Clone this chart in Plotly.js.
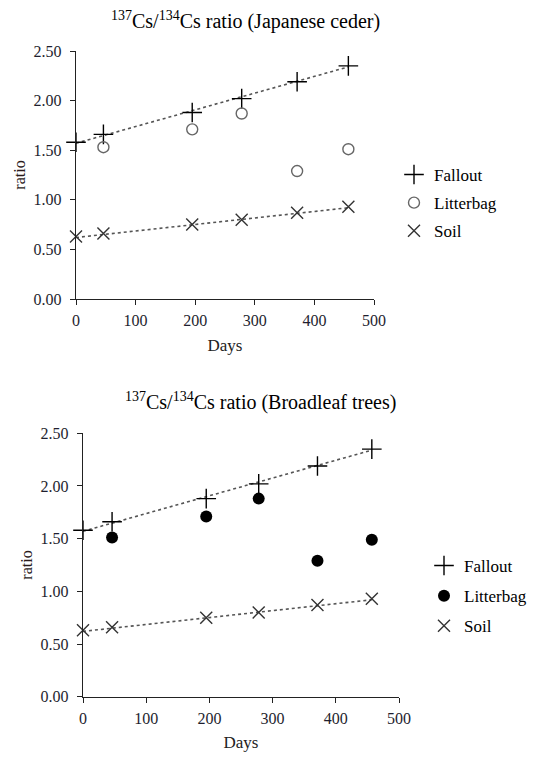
<!DOCTYPE html>
<html><head><meta charset="utf-8">
<script src="https://cdn.plot.ly/plotly-3.0.1.min.js"></script>
<style>html,body{margin:0;padding:0;background:#fff}#c{width:551px;height:757px}</style>
</head><body><div id="c"></div>
<script>
// Data
const days = [0, 46, 195, 278, 371, 457];
const fallout = [1.58, 1.66, 1.88, 2.02, 2.19, 2.35];
const litterDays = [46, 195, 278, 371, 457];
const litterCeder = [1.53, 1.71, 1.87, 1.29, 1.51];
const litterBroad = [1.51, 1.71, 1.88, 1.29, 1.49];
const soil = [0.63, 0.66, 0.75, 0.80, 0.87, 0.93];
const trendDays = [0, 457];
const falloutTrend = [1.57, 2.34];
const soilTrend = [0.62, 0.92];
const titles = ['<sup>137</sup>Cs/<sup>134</sup>Cs ratio (Japanese ceder)', '<sup>137</sup>Cs/<sup>134</sup>Cs ratio (Broadleaf trees)'];
const xTicks = [0, 100, 200, 300, 400, 500];
const yTicks = [0, 0.5, 1.0, 1.5, 2.0, 2.5];

const W = 551, H = 757;
const FONT = 'Liberation Serif';
const px = v => v / W;
const py = v => 1 - v / H;

function panel(xa, ya, lg, litter, litterMarker) {
  return [
    {x: trendDays, y: falloutTrend, xaxis: xa, yaxis: ya, mode: 'lines', line: {color: '#555', width: 1.6, dash: 'dot'}, showlegend: false, hoverinfo: 'skip'},
    {x: trendDays, y: soilTrend, xaxis: xa, yaxis: ya, mode: 'lines', line: {color: '#555', width: 1.6, dash: 'dot'}, showlegend: false, hoverinfo: 'skip'},
    {x: days, y: fallout, xaxis: xa, yaxis: ya, mode: 'markers', name: 'Fallout', legend: lg, legendgroup: lg + 'a', cliponaxis: false,
     marker: {symbol: 'cross-thin-open', size: 14, color: '#000', line: {color: '#000', width: 1.4}}},
    {x: litterDays, y: litter, xaxis: xa, yaxis: ya, mode: 'markers', name: 'Litterbag', legend: lg, legendgroup: lg + 'b', cliponaxis: false,
     marker: litterMarker},
    {x: days, y: soil, xaxis: xa, yaxis: ya, mode: 'markers', name: 'Soil', legend: lg, legendgroup: lg + 'c', cliponaxis: false,
     marker: {symbol: 'x-thin-open', size: 12, color: '#333', line: {color: '#333', width: 1.4}}}
  ];
}

const data = [].concat(
  panel('x', 'y', 'legend', litterCeder, {symbol: 'circle-open', size: 11, color: '#666', line: {color: '#666', width: 1.4}}),
  panel('x2', 'y2', 'legend2', litterBroad, {symbol: 'circle', size: 12, color: '#000', line: {width: 0}})
);

function xax(d, anchor) {
  return {domain: d, anchor: anchor, range: [0, 500], tickvals: xTicks, ticks: 'outside', ticklen: 5, tickwidth: 1, tickcolor: '#222',
    showline: true, linecolor: '#222', linewidth: 1.2, showgrid: false, zeroline: false, tickfont: {family: FONT, size: 16, color: '#1e1e2e'},
    ticklabelstandoff: 2,
    title: {text: 'Days', font: {family: FONT, size: 17, color: '#222'}, standoff: 10}};
}
function yax(d, anchor) {
  return {domain: d, anchor: anchor, range: [0, 2.5], tickvals: yTicks, tickformat: '.2f', ticks: 'outside', ticklen: 5, tickwidth: 1, tickcolor: '#222',
    showline: true, linecolor: '#222', linewidth: 1.2, showgrid: false, zeroline: false, tickfont: {family: FONT, size: 16, color: '#1e1e2e'},
    ticklabelstandoff: 5,
    title: {text: 'ratio', font: {family: FONT, size: 16, color: '#2a1a1a'}, standoff: 4}};
}

const legBase = {font: {family: FONT, size: 17, color: '#000'}, bgcolor: 'rgba(0,0,0,0)', borderwidth: 0, xanchor: 'left', yanchor: 'middle',
  traceorder: 'grouped', itemwidth: 30};

const layout = {
  width: W, height: H,
  margin: {l: 0, r: 0, t: 0, b: 0},
  paper_bgcolor: '#fff', plot_bgcolor: '#fff',
  font: {family: FONT, color: '#000'},
  xaxis: xax([px(76), px(374)], 'y'),
  yaxis: yax([py(299), py(51)], 'x'),
  xaxis2: xax([px(83), px(399)], 'y2'),
  yaxis2: yax([py(696.7), py(433.3)], 'x2'),
  legend: Object.assign({}, legBase, {x: px(394), y: py(203), tracegroupgap: 3}),
  legend2: Object.assign({}, legBase, {x: px(424), y: py(596), tracegroupgap: 5}),
  annotations: [
    {text: titles[0], xref: 'paper', yref: 'paper', x: px(245), y: py(21), xanchor: 'center', yanchor: 'middle', showarrow: false, font: {family: FONT, size: 20, color: '#000'}},
    {text: titles[1], xref: 'paper', yref: 'paper', x: px(260), y: py(401), xanchor: 'center', yanchor: 'middle', showarrow: false, font: {family: FONT, size: 20, color: '#000'}}
  ],
  showlegend: true
};

Plotly.newPlot('c', data, layout, {staticPlot: true, displayModeBar: false});
</script>
</body></html>
